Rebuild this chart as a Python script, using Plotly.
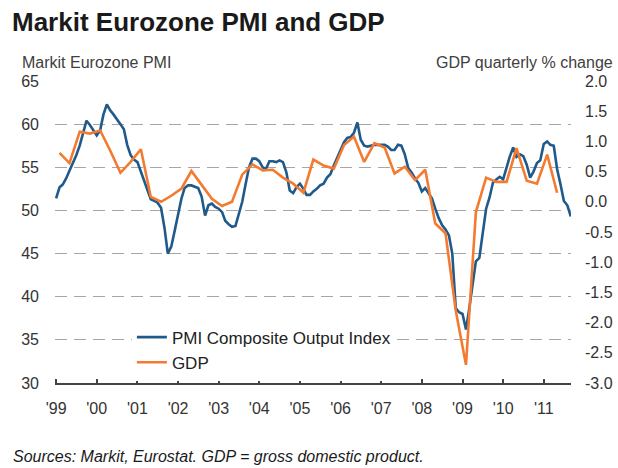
import plotly.graph_objects as go
import pandas as pd

# ---- data ----
pmi_start = "1999-01-01"
pmi_values = [
    51.4, 52.7, 53.0, 53.7, 54.6, 55.5, 56.4, 57.5, 59.0, 60.4, 59.9, 59.3,
    58.7, 59.3, 61.1, 62.3, 61.6, 61.1, 60.6, 60.0, 59.4, 57.6, 56.4, 55.9,
    55.6, 54.5, 53.3, 52.2, 51.3, 51.1, 50.9, 50.3, 48.0, 45.0, 45.8, 47.6,
    49.6, 51.4, 52.6, 52.9, 52.9, 52.7, 52.6, 51.6, 49.4, 50.6, 50.8, 50.4,
    50.2, 49.8, 48.8, 48.4, 48.1, 48.2, 49.6, 51.0, 53.1, 55.0, 56.0, 56.0,
    55.7, 55.0, 54.8, 55.7, 55.7, 55.6, 55.8, 55.6, 54.4, 52.3, 52.0, 52.7,
    53.1, 52.5, 51.8, 51.8, 52.2, 52.5, 52.9, 53.1, 53.8, 54.2, 55.2, 56.1,
    56.9, 57.9, 58.4, 58.5, 59.0, 60.2, 58.2, 57.5, 57.4, 57.5, 57.6, 57.6,
    57.6, 57.6, 57.4, 57.0, 57.0, 57.6, 57.5, 56.5, 54.9, 54.4, 53.7, 53.2,
    52.2, 52.6, 52.0, 51.4, 50.2, 49.1, 48.3, 47.8, 47.1, 45.0, 38.7, 38.2,
    38.0, 36.2, 38.5, 41.5, 44.1, 44.5, 47.5, 50.2, 51.5, 53.2, 53.6, 53.9,
    53.6, 55.0, 56.2, 57.3, 56.2, 56.5, 56.3, 55.3, 53.8, 54.5, 55.5, 55.8,
    57.7, 58.0, 57.6, 57.5, 54.8, 53.0, 51.1, 50.6, 49.3,
]
gdp_start = "1999-02-01"  # quarterly, plotted at mid-quarter month
gdp_values = [
    0.81, 0.64, 1.16, 1.13, 1.18, 0.85, 0.48, 0.66, 0.87, 0.08,
    0.00, 0.10, 0.22, 0.51, 0.28, 0.05, -0.07, 0.00, 0.45, 0.62,
    0.52, 0.53, 0.40, 0.30, 0.15, 0.70, 0.60, 0.55, 0.94, 1.08,
    0.66, 0.97, 0.90, 0.47, 0.58, 0.36, 0.53, -0.36, -0.52, -1.80,
    -2.70, -0.17, 0.40, 0.33, 0.33, 0.89, 0.35, 0.30, 0.78, 0.15,
]
year_ticks = [f"{y}-01-01" for y in range(1999, 2012)]
year_labels = ["'99", "'00", "'01", "'02", "'03", "'04", "'05", "'06",
               "'07", "'08", "'09", "'10", "'11"]
left_ticks = [30, 35, 40, 45, 50, 55, 60, 65]
right_ticks = [-3.0, -2.5, -2.0, -1.5, -1.0, -0.5, 0.0, 0.5, 1.0, 1.5, 2.0]

pmi_dates = pd.date_range(pmi_start, periods=len(pmi_values), freq="MS")
gdp_dates = pd.date_range(gdp_start, periods=len(gdp_values), freq="3MS")

FONT = "Liberation Sans, Arial, sans-serif"
BLUE = "#1F5A8A"
ORANGE = "#F47A30"
TXT = "#333333"

fig = go.Figure()
fig.add_trace(go.Scatter(x=pmi_dates, y=pmi_values, name="PMI Composite Output Index",
                         mode="lines", line=dict(color=BLUE, width=2.6), yaxis="y"))
fig.add_trace(go.Scatter(x=gdp_dates, y=gdp_values, name="GDP",
                         mode="lines", line=dict(color=ORANGE, width=2.6), yaxis="y2"))

fig.update_layout(
    width=618, height=468,
    margin=dict(l=55, r=47, t=81, b=85, autoexpand=False),
    paper_bgcolor="white", plot_bgcolor="white",
    font=dict(family=FONT, size=16, color=TXT),
    showlegend=True,
    legend=dict(x=0.149, y=0.21, xanchor="left", yanchor="top",
                bgcolor="white", font=dict(size=17, color="#222222"),
                tracegroupgap=0, itemwidth=30),
    xaxis=dict(type="date", range=["1998-12-22", "2011-09-03"],
               tickvals=year_ticks, ticktext=year_labels, automargin=False,
               showgrid=False, showline=True, linecolor="#444444", linewidth=1.5,
               ticks="inside", ticklen=4, tickcolor="#444444", tickwidth=1.5,
               ticklabelstandoff=10,
               tickfont=dict(size=16, color=TXT), zeroline=False),
    yaxis=dict(range=[30, 65], tickvals=left_ticks, showline=False, automargin=False,
               showgrid=True, gridcolor="#A6A6A6", gridwidth=1.3,
               griddash="12px,7px", zeroline=False,
               ticklabelstandoff=15,
               tickfont=dict(size=16, color=TXT)),
    yaxis2=dict(range=[-3, 2], tickvals=right_ticks, automargin=False,
                ticktext=[f"{v:.1f}" for v in right_ticks],
                overlaying="y", side="right", showgrid=False, showline=False,
                zeroline=False, ticklabelstandoff=13,
                tickfont=dict(size=16, color=TXT)),
)

fig.add_annotation(text="<b>Markit Eurozone PMI and GDP</b>", xref="paper", yref="paper",
                   x=-0.0872, y=1.0, xanchor="left", yanchor="middle",
                   yshift=59, showarrow=False,
                   font=dict(family=FONT, size=26, color="#1A1A1A"))
fig.add_annotation(text="Markit Eurozone PMI", xref="paper", yref="paper",
                   x=-0.0678, y=1.0, xanchor="left", yanchor="middle", yshift=19,
                   showarrow=False, font=dict(family=FONT, size=16, color="#404040"))
fig.add_annotation(text="GDP quarterly % change", xref="paper", yref="paper",
                   x=1.0853, y=1.0, xanchor="right", yanchor="middle", yshift=19,
                   showarrow=False, font=dict(family=FONT, size=16, color="#404040"))
fig.add_annotation(text="<i>Sources: Markit, Eurostat. GDP = gross domestic product.</i>",
                   xref="paper", yref="paper", x=-0.085, y=0, xanchor="left",
                   yanchor="middle", yshift=-73, showarrow=False,
                   font=dict(family=FONT, size=16, color="#1A1A1A"))

fig.write_html("out.html", config={"displayModeBar": False},
               post_script="document.body.style.margin='0px';document.body.style.padding='0px';")
